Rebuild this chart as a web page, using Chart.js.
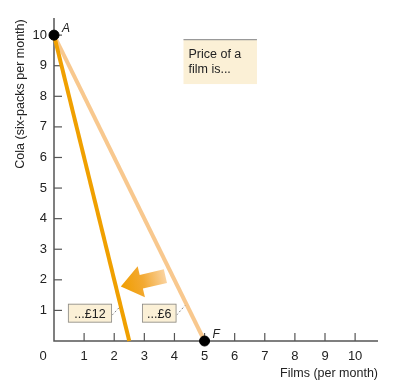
<!DOCTYPE html>
<html><head><meta charset="utf-8">
<script src="https://cdn.jsdelivr.net/npm/chart.js@4"></script>
<style>html,body{margin:0;padding:0;background:#fff}#wrap{width:398px;height:380px}</style>
</head><body><div id="wrap"><canvas id="c" width="398" height="380"></canvas></div>
<script>
const xTicks = [1,2,3,4,5,6,7,8,9,10];
const yTicks = [1,2,3,4,5,6,7,8,9,10];
const line12 = [{x:0,y:10},{x:2.5,y:0}];
const line6 = [{x:0,y:10},{x:5,y:0}];
const points = [{x:0,y:10,label:'A'},{x:5,y:0,label:'F'}];
const boxes = [
  {text:'...£12', x0:0.46, x1:1.93, y0:0.6, y1:1.22, lx:2.2, ly:1.13},
  {text:'...£6', x0:2.92, x1:4.07, y0:0.6, y1:1.22, lx:4.35, ly:1.16}
];
const priceBox = {lines:['Price of a','film is...'], x0:4.3, x1:6.74, y0:8.4, y1:9.85};
const arrow = {tailX:3.7, tailY:2.12, tipX:2.22, tipY:1.78};
const xTitle = 'Films (per month)';
const yTitle = 'Cola (six-packs per month)';

const FONT = '"Liberation Sans", Arial, sans-serif';
const TXT = '#222';

const overlay = {
  id:'overlay',
  beforeDatasetsDraw(chart){
    const {ctx, scales:{x,y}} = chart;
    const X=v=>x.getPixelForValue(v), Y=v=>y.getPixelForValue(v);
    ctx.save();
    ctx.strokeStyle='#555'; ctx.lineWidth=1.5;
    ctx.beginPath(); ctx.moveTo(X(0), chart.chartArea.top); ctx.lineTo(X(0), Y(0)); ctx.lineTo(chart.chartArea.right, Y(0)); ctx.stroke();
    ctx.lineWidth=1.2;
    yTicks.forEach(v=>{ctx.beginPath(); ctx.moveTo(X(0),Y(v)); ctx.lineTo(X(0)+8,Y(v)); ctx.stroke();});
    xTicks.forEach(v=>{ctx.beginPath(); ctx.moveTo(X(v),Y(0)); ctx.lineTo(X(v),Y(0)-8); ctx.stroke();});
    ctx.fillStyle='#fbf0d6';
    ctx.fillRect(X(priceBox.x0), Y(priceBox.y1), X(priceBox.x1)-X(priceBox.x0), Y(priceBox.y0)-Y(priceBox.y1));
    ctx.strokeStyle='#999'; ctx.lineWidth=1.2;
    ctx.beginPath(); ctx.moveTo(X(priceBox.x0), Y(priceBox.y1)); ctx.lineTo(X(priceBox.x1), Y(priceBox.y1)); ctx.stroke();
    ctx.fillStyle=TXT; ctx.font='12.5px '+FONT; ctx.textAlign='left'; ctx.textBaseline='middle';
    priceBox.lines.forEach((t,i)=>ctx.fillText(t, X(priceBox.x0)+5, Y(priceBox.y1)+15+i*15));
    ctx.font='13px '+FONT;
    ctx.textAlign='center'; ctx.fillText('0', X(0)-11, Y(0)+15);
    ctx.font='12.5px '+FONT;
    ctx.textAlign='right'; ctx.fillText(xTitle, chart.chartArea.right, Y(0)+33);
    ctx.save(); ctx.translate(21, 94); ctx.rotate(-Math.PI/2); ctx.textAlign='center'; ctx.fillText(yTitle,0,0); ctx.restore();
    ctx.restore();
  },
  afterDatasetsDraw(chart){
    const {ctx, scales:{x,y}} = chart;
    const X=v=>x.getPixelForValue(v), Y=v=>y.getPixelForValue(v);
    ctx.save();
    const tx=X(arrow.tailX), ty=Y(arrow.tailY), hx=X(arrow.tipX), hy=Y(arrow.tipY);
    const ang=Math.atan2(hy-ty,hx-tx), len=Math.hypot(hx-tx,hy-ty);
    ctx.translate(tx,ty); ctx.rotate(ang);
    const g=ctx.createLinearGradient(0,0,len,0);
    g.addColorStop(0,'#fad3a0'); g.addColorStop(0.5,'#f3a932'); g.addColorStop(1,'#f09e00');
    ctx.fillStyle=g;
    const hl=21, sw=7, hw=16;
    ctx.beginPath();
    ctx.moveTo(0,-sw); ctx.lineTo(len-hl,-sw); ctx.lineTo(len-hl,-hw); ctx.lineTo(len,0);
    ctx.lineTo(len-hl,hw); ctx.lineTo(len-hl,sw); ctx.lineTo(0,sw); ctx.closePath(); ctx.fill();
    ctx.setTransform(1,0,0,1,0,0);
    ctx.font='12.5px '+FONT; ctx.textBaseline='middle'; ctx.textAlign='center';
    boxes.forEach(b=>{
      const bx=X(b.x0), by=Y(b.y1), bw=X(b.x1)-X(b.x0), bh=Y(b.y0)-Y(b.y1);
      ctx.setLineDash([2,2]); ctx.strokeStyle='#666'; ctx.lineWidth=0.8;
      ctx.beginPath(); ctx.moveTo(bx+bw, by+bh/2+2); ctx.lineTo(X(b.lx), Y(b.ly)); ctx.stroke();
      ctx.setLineDash([]);
      ctx.fillStyle='#fbf0d6'; ctx.fillRect(bx,by,bw,bh);
      ctx.strokeStyle='#888'; ctx.lineWidth=0.8; ctx.strokeRect(bx+0.5,by+0.5,bw-1,bh-1);
      ctx.fillStyle=TXT; ctx.fillText(b.text, bx+bw/2, by+bh/2+1);
    });
    ctx.font='italic 12px '+FONT; ctx.textAlign='left'; ctx.fillStyle=TXT;
    points.forEach(p=>ctx.fillText(p.label, X(p.x)+8, Y(p.y)-6));
    ctx.restore();
  }
};

new Chart(document.getElementById('c'), {
  type:'scatter',
  data:{datasets:[
    {data:line6, showLine:true, borderColor:'#f8c88e', borderWidth:4, pointRadius:0, clip:false, order:3},
    {data:line12, showLine:true, borderColor:'#f0a000', borderWidth:4, pointRadius:0, clip:false, order:2},
    {data:points, showLine:false, pointRadius:5, pointBackgroundColor:'#000', pointBorderColor:'#000', clip:false, order:1}
  ]},
  options:{
    responsive:false, animation:false, devicePixelRatio:1,
    layout:{padding:{left:0,right:20,top:18,bottom:0}},
    plugins:{legend:{display:false}, tooltip:{enabled:false}},
    scales:{
      x:{type:'linear', min:0, max:10.76, border:{display:false},
        afterFit(s){s.height=39;},
        afterBuildTicks(s){s.ticks=xTicks.map(v=>({value:v}));},
        grid:{display:false, drawTicks:false, tickLength:0},
        ticks:{padding:8, color:TXT, font:{family:FONT,size:13}, maxRotation:0}},
      y:{type:'linear', min:0, max:10.56, border:{display:false},
        afterFit(s){s.width=54;},
        afterBuildTicks(s){s.ticks=yTicks.map(v=>({value:v}));},
        grid:{display:false, drawTicks:false, tickLength:0},
        ticks:{padding:7, color:TXT, font:{family:FONT,size:13}}}
    }
  },
  plugins:[overlay]
});
</script></body></html>
